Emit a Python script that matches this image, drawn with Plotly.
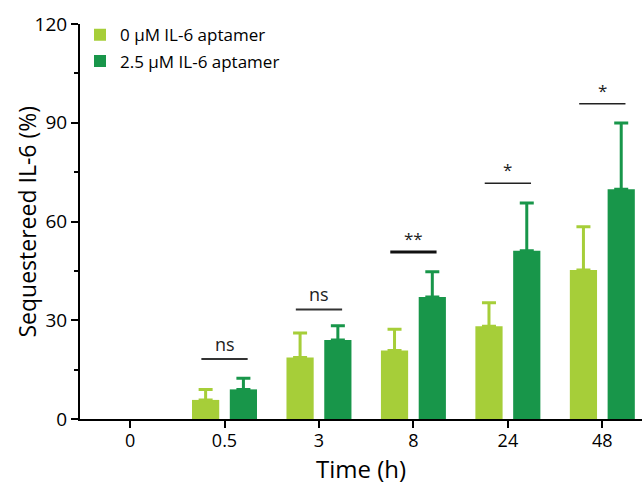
import plotly.graph_objects as go

categories = ["0", "0.5", "3", "8", "24", "48"]
ctrl_vals = [0, 5.8, 18.7, 20.8, 28.2, 45.3]
ctrl_err = [0, 3.2, 7.4, 6.5, 7.1, 13.1]
apt_vals = [0, 9.0, 24.0, 37.1, 51.1, 69.8]
apt_err = [0, 3.4, 4.3, 7.6, 14.5, 20.1]
names = ["0 \u03bcM IL-6 aptamer", "2.5 \u03bcM IL-6 aptamer"]
sig_labels = ["ns", "ns", "**", "*", "*"]
sig_y = [18.2, 33.3, 50.7, 71.6, 95.8]
y_ticks = [0, 30, 60, 90, 120]

LIGHT = "#a6ce39"
DARK = "#18964a"
FONT = "Open Sans"

fig = go.Figure()
for k, (vals, err, name, col) in enumerate([(ctrl_vals, ctrl_err, names[0], LIGHT),
                                            (apt_vals, apt_err, names[1], DARK)]):
    # zero-valued points (time 0) draw nothing, as in the original
    fig.add_trace(go.Bar(
        x=categories, y=[v if v > 0 else None for v in vals], name=name, legendgroup=f"g{k}",
        marker=dict(color=col, line=dict(width=0)),
        error_y=dict(type="data", array=err, symmetric=False,
                     arrayminus=[0] * len(err), color=col, thickness=3, width=7),
    ))

line_styles = {"ns": ("#333333", 2), "**": ("#111111", 3), "*": ("#222222", 1.5)}
for i, (lab, yv) in enumerate(zip(sig_labels, sig_y)):
    idx = i + 1
    col, w = line_styles[lab]
    fig.add_shape(type="line", xref="x", yref="y", x0=idx - 0.245, x1=idx + 0.245, y0=yv, y1=yv,
                  line=dict(color=col, width=w))
    fig.add_annotation(x=idx, y=yv, xref="x", yref="y", text=lab, showarrow=False,
                       yanchor="bottom", yshift=1 if lab == "ns" else 0,
                       font=dict(family=FONT, size=18 if lab == "ns" else 17, color="#222222"))

fig.add_annotation(text="Sequestereed IL-6 (%)", xref="paper", yref="paper", x=0, y=0.5,
                   xanchor="center", yanchor="middle", xshift=-54, textangle=-90, showarrow=False,
                   font=dict(family=FONT, size=23, color="black"))

fig.update_layout(
    width=642, height=485,
    margin=dict(l=80, r=0, t=24, b=66),
    plot_bgcolor="white", paper_bgcolor="white",
    barmode="group", bargap=0.2, bargroupgap=0.28,
    font=dict(family=FONT, size=18, color="black"),
    showlegend=True,
    legend=dict(x=0.0, y=1.017, xanchor="left", yanchor="top", xref="paper", yref="paper",
                bgcolor="rgba(0,0,0,0)", borderwidth=0, font=dict(family=FONT, size=17),
                tracegroupgap=1, itemsizing="constant"),
)
fig.update_xaxes(
    type="category", categoryorder="array", categoryarray=categories,
    range=[-0.53, 5.42], showline=True, linecolor="black", linewidth=2,
    ticks="outside", ticklen=7, tickwidth=2, tickcolor="black", showgrid=False, zeroline=False,
    tickfont=dict(family=FONT, size=18), ticklabelstandoff=-3,
    title=dict(text="Time (h)", font=dict(family=FONT, size=24), standoff=6),
)
fig.update_yaxes(
    range=[0, 120], tickvals=y_ticks, showline=True, linecolor="black", linewidth=2,
    ticks="outside", ticklen=7, tickwidth=2, tickcolor="black", showgrid=False, zeroline=False,
    minor=dict(ticks="outside", ticklen=4, tickwidth=2, tickcolor="black", dtick=15, showgrid=False),
    tickfont=dict(family=FONT, size=19),
)

fig.write_html("out.html")
